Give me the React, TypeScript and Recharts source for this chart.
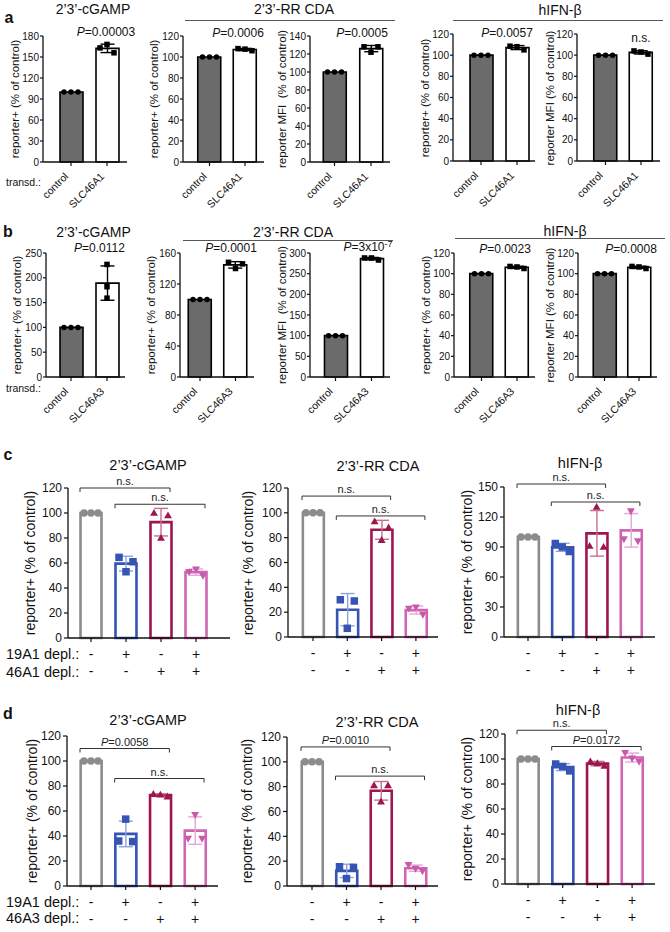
import React from 'react';
import { ComposedChart, Bar, Line, XAxis, YAxis, ErrorBar, ReferenceLine } from 'recharts';

const FONT = '"Liberation Sans", Arial, Helvetica, sans-serif';

// ---------- a / b : transduction (replicates per group, % of control) ----------
const transdA = ['control', 'SLC46A1'];
const transdB = ['control', 'SLC46A3'];

const aCgamp = [[100, 100, 100], [163, 168, 156]];
const aRrPos = [[100, 100, 100], [108, 107.5, 106]];
const aRrMfi = [[100, 100, 100], [128, 122, 128]];
const aIfnPos = [[100, 100, 100], [108.5, 108, 105]];
const aIfnMfi = [[100, 100, 100], [104, 103, 101]];

const bCgamp = [[100, 100, 100], [227, 182, 159]];
const bRrPos = [[100, 100, 100], [148, 140, 146]];
const bRrMfi = [[100, 100, 100], [288, 288, 283]];
const bIfnPos = [[100, 100, 100], [107, 106.5, 105]];
const bIfnMfi = [[100, 100, 100], [107, 106.5, 105]];

// ---------- c / d : depletion ----------
const deplGroups = ['ctrl', '19A1', '46A', 'both'];
const depl19A1 = ['-', '+', '-', '+'];
const depl46A = ['-', '-', '+', '+'];

const cCgamp = [[100, 100, 100], [64.5, 53, 61], [100, 80, 98], [53, 55, 50]];
const cRr = [[100, 100, 100], [30, 7, 29], [93, 78, 88], [23, 24, 18]];
const cIfn = [[100, 100, 100], [93.5, 90, 85.5], [91, 130, 90], [98, 126, 96]];
const dCgamp = [[100, 100, 100], [36, 53.5, 35.5], [73.5, 73, 71.5], [38, 57, 38]];
const dRr = [[100, 100, 100], [15.5, 6, 15], [81, 68, 81], [17, 14, 12]];
const dIfn = [[100, 100, 100], [96, 94, 90.5], [98, 96.5, 94.5], [105, 100.5, 98]];

// significance brackets: group index from/to, height in % of control
const cCgampBr = [{ from: 0, to: 2, y: 120, text: 'n.s.' }, { from: 1, to: 3, y: 107, text: 'n.s.' }];
const cRrBr = [{ from: 0, to: 2, y: 113.5, text: 'n.s.' }, { from: 1, to: 3, y: 97.5, text: 'n.s.' }];
const cIfnBr = [{ from: 0, to: 2, y: 153, text: 'n.s.' }, { from: 1, to: 3, y: 135, text: 'n.s.' }];
const dCgampBr = [{ from: 0, to: 2, y: 110, text: 'P=0.0058' }, { from: 1, to: 3, y: 86, text: 'n.s.' }];
const dRrBr = [{ from: 0, to: 2, y: 112, text: 'P=0.0010' }, { from: 1, to: 3, y: 88.5, text: 'n.s.' }];
const dIfnBr = [{ from: 0, to: 2, y: 123, text: 'n.s.' }, { from: 1, to: 3, y: 110, text: 'P=0.0172' }];

const t120 = [0, 20, 40, 60, 80, 100, 120];
const t140 = [0, 20, 40, 60, 80, 100, 120, 140];
const t150 = [0, 30, 60, 90, 120, 150];
const t160 = [0, 40, 80, 120, 160];
const t180 = [0, 30, 60, 90, 120, 150, 180];
const t250 = [0, 50, 100, 150, 200, 250];
const t300 = [0, 50, 100, 150, 200, 250, 300];

// ---------- looks ----------
const lookT = {
  fills: ['#6b6b6b', '#ffffff'],
  strokes: ['#000', '#000'],
  errColors: ['#000', '#000'],
  markers: ['circle', 'square'],
  dotColors: ['#000', '#000'],
  dotSize: 5.5,
  barSize: 23,
  barStroke: 1.6,
  tickFont: 10,
  tickSize: 3,
  tickMargin: 1,
  halfBar: 11,
};
const lookD = {
  fills: ['#fff', '#fff', '#fff', '#fff'],
  strokes: ['#8c8c8c', '#3554b3', '#9e1650', '#d066b3'],
  errColors: ['#8c8c8c', '#8ea2dc', '#c4708f', '#e6a6d6'],
  markers: ['circle', 'square', 'up', 'down'],
  dotColors: ['#8c8c8c', '#3554b3', '#9e1650', '#c95aab'],
  dotSize: 7.5,
  barSize: 21,
  barStroke: 2.6,
  tickFont: 12,
  tickSize: 4,
  tickMargin: 2,
  halfBar: 11,
};

const spread = [-7, 0, 7];
const stacked = [0, 0, 0];

const mean = (a: number[]) => a.reduce((s, v) => s + v, 0) / a.length;
const sd = (a: number[]) => {
  const m = mean(a);
  return Math.sqrt(a.reduce((s, v) => s + (v - m) ** 2, 0) / (a.length - 1));
};

const pText = (text: string) => {
  if (!text.startsWith('P=')) return text;
  const [base, sup] = text.slice(1).split('^');
  return (
    <>
      <i>P</i>
      {base}
      {sup ? <sup style={{ fontSize: '0.75em', verticalAlign: '0.45em', lineHeight: 0 }}>{sup}</sup> : null}
    </>
  );
};

const svgPText = (text: string) => {
  if (!text.startsWith('P=')) return text;
  return [<tspan key="p" fontStyle="italic">P</tspan>, <tspan key="r">{text.slice(1)}</tspan>];
};

function Marker({ x, y, kind, color, size }: any) {
  const h = size / 2;
  if (kind === 'circle') return <circle cx={x} cy={y} r={h} fill={color} />;
  if (kind === 'square') return <rect x={x - h} y={y - h} width={size} height={size} fill={color} />;
  if (kind === 'up')
    return <path d={`M${x},${y - h * 1.1}L${x + h * 1.05},${y + h * 0.75}L${x - h * 1.05},${y + h * 0.75}Z`} fill={color} />;
  return <path d={`M${x},${y + h * 1.1}L${x + h * 1.05},${y - h * 0.75}L${x - h * 1.05},${y - h * 0.75}Z`} fill={color} />;
}

const transdTick = (p: any) => {
  const { x, y, payload } = p;
  const ax = x - 2;
  const ay = y + 9;
  return (
    <text x={ax} y={ay} transform={`rotate(-45 ${ax} ${ay})`} textAnchor="end" fontSize={10.5} fontFamily={FONT} fill="#111">
      {payload.value}
    </text>
  );
};

const deplTick = (p: any) => {
  const { x, y, payload } = p;
  const i = deplGroups.indexOf(payload.value);
  return (
    <g fontFamily={FONT} fontSize={14} fill="#111" textAnchor="middle">
      <text x={x} y={y + 15}>{depl19A1[i]}</text>
      <text x={x} y={y + 32}>{depl46A[i]}</text>
    </g>
  );
};

const YW = 34;
const MT = 44;
const MR = 8;
const MB = 62;

function Panel({ spec }: any) {
  const { reps, cats, ticks, x0, c1, step, x1, yTop, yBot, look, brackets = [] } = spec;
  const jitter = spec.jitter || cats.map(() => spread);
  const n = cats.length;
  const padL = c1 - step / 2 - x0;
  const padR = x1 - (c1 + (n - 0.5) * step);
  const data = cats.map((c: string, i: number) => {
    const row: any = { cat: c, idx: i };
    row['v' + i] = mean(reps[i]);
    const e = sd(reps[i]);
    row['e' + i] = e > 0.01 ? e : null;
    reps[i].forEach((v: number, k: number) => (row['r' + k] = v));
    return row;
  });
  const w = x1 - x0 + YW + MR;
  const h = yBot - yTop + MT + MB;

  const dotFor = (k: number) => (p: any) => {
    const { cx, cy, payload, key } = p;
    if (cx == null || cy == null || !payload) return <g key={key} />;
    const i = payload.idx;
    return (
      <g key={key}>
        <Marker x={cx + jitter[i][k]} y={cy} kind={look.markers[i]} color={look.dotColors[i]} size={look.dotSize} />
      </g>
    );
  };

  const bracketShape = (text: string) => (p: any) => {
    const { x1: a, x2: b, y1: y } = p;
    const l = Math.min(a, b) - look.halfBar;
    const r = Math.max(a, b) + look.halfBar - 2;
    return (
      <g>
        <path d={`M${l},${y + 4}V${y}H${r}V${y + 4}`} stroke="#333" strokeWidth={1} fill="none" />
        <text x={(l + r) / 2} y={y - 3} textAnchor="middle" fontSize={11} fontFamily={FONT} fill="#222">
          {svgPText(text)}
        </text>
      </g>
    );
  };

  return (
    <div style={{ position: 'absolute', left: x0 - YW, top: yTop - MT, width: w, height: h }}>
      <ComposedChart width={w} height={h} data={data} margin={{ top: MT, right: MR, bottom: 0, left: 0 }}>
        <XAxis
          dataKey="cat"
          type="category"
          height={MB}
          padding={{ left: padL, right: padR }}
          interval={0}
          tickSize={4}
          tickMargin={2}
          axisLine={{ stroke: '#111', strokeWidth: 1.3 }}
          tickLine={{ stroke: '#111', strokeWidth: 1.2 }}
          tick={spec.kind === 'transd' ? transdTick : deplTick}
        />
        <YAxis
          type="number"
          width={YW}
          domain={[0, ticks[ticks.length - 1]]}
          ticks={ticks}
          interval={0}
          tickSize={look.tickSize}
          tickMargin={look.tickMargin}
          axisLine={{ stroke: '#111', strokeWidth: 1.3 }}
          tickLine={{ stroke: '#111', strokeWidth: 1.2 }}
          tick={{ fontSize: look.tickFont, fill: '#111', fontFamily: FONT }}
        />
        {cats.map((_: string, i: number) => (
          <Bar
            key={'bar' + i}
            dataKey={'v' + i}
            stackId="s"
            barSize={look.barSize}
            fill={look.fills[i]}
            stroke={look.strokes[i]}
            strokeWidth={look.barStroke}
            isAnimationActive={false}
          >
            <ErrorBar dataKey={'e' + i} width={7} stroke={look.errColors[i]} strokeWidth={1.4} direction="y" />
          </Bar>
        ))}
        {[0, 1, 2].map((k) => (
          <Line
            key={'rep' + k}
            dataKey={'r' + k}
            stroke="none"
            dot={dotFor(k)}
            activeDot={false}
            legendType="none"
            isAnimationActive={false}
          />
        ))}
        {brackets.map((b: any, j: number) => (
          <ReferenceLine
            key={'br' + j}
            segment={[{ x: cats[b.from], y: b.y }, { x: cats[b.to], y: b.y }]}
            ifOverflow="visible"
            shape={bracketShape(b.text)}
          />
        ))}
      </ComposedChart>
    </div>
  );
}

const specs = [
  { kind: 'transd', look: lookT, reps: aCgamp, cats: transdA, ticks: t180, x0: 43, c1: 71, step: 36, x1: 127, yTop: 36, yBot: 162 },
  { kind: 'transd', look: lookT, reps: aRrPos, cats: transdA, ticks: t120, x0: 183, c1: 209.5, step: 35.5, x1: 264, yTop: 36, yBot: 162 },
  { kind: 'transd', look: lookT, reps: aRrMfi, cats: transdA, ticks: t140, x0: 310, c1: 334.5, step: 36.5, x1: 390, yTop: 36, yBot: 162 },
  { kind: 'transd', look: lookT, reps: aIfnPos, cats: transdA, ticks: t120, x0: 453, c1: 481, step: 36, x1: 535, yTop: 34, yBot: 161 },
  { kind: 'transd', look: lookT, reps: aIfnMfi, cats: transdA, ticks: t120, x0: 577, c1: 605.5, step: 35.5, x1: 660, yTop: 34, yBot: 161 },
  { kind: 'transd', look: lookT, reps: bCgamp, cats: transdB, ticks: t250, x0: 46, c1: 71, step: 36, x1: 125, yTop: 253, yBot: 377, jitter: [spread, stacked] },
  { kind: 'transd', look: lookT, reps: bRrPos, cats: transdB, ticks: t160, x0: 180, c1: 200, step: 35.5, x1: 254, yTop: 253, yBot: 377 },
  { kind: 'transd', look: lookT, reps: bRrMfi, cats: transdB, ticks: t300, x0: 310, c1: 335.5, step: 36, x1: 390, yTop: 253, yBot: 377 },
  { kind: 'transd', look: lookT, reps: bIfnPos, cats: transdB, ticks: t120, x0: 454, c1: 481.5, step: 35.5, x1: 535, yTop: 253, yBot: 377 },
  { kind: 'transd', look: lookT, reps: bIfnMfi, cats: transdB, ticks: t120, x0: 578, c1: 604.5, step: 34.5, x1: 657, yTop: 253, yBot: 377 },
  { kind: 'depl', look: lookD, reps: cCgamp, cats: deplGroups, ticks: t120, brackets: cCgampBr, x0: 68, c1: 91, step: 35, x1: 230, yTop: 488, yBot: 638 },
  { kind: 'depl', look: lookD, reps: cRr, cats: deplGroups, ticks: t120, brackets: cRrBr, x0: 288, c1: 313, step: 34.3, x1: 438, yTop: 488, yBot: 637 },
  { kind: 'depl', look: lookD, reps: cIfn, cats: deplGroups, ticks: t150, brackets: cIfnBr, x0: 504, c1: 528, step: 34.3, x1: 655, yTop: 487, yBot: 637 },
  { kind: 'depl', look: lookD, reps: dCgamp, cats: deplGroups, ticks: t120, brackets: dCgampBr, x0: 67, c1: 91, step: 34.7, x1: 218, yTop: 736, yBot: 886 },
  { kind: 'depl', look: lookD, reps: dRr, cats: deplGroups, ticks: t120, brackets: dRrBr, x0: 287, c1: 312, step: 34.5, x1: 438, yTop: 737, yBot: 886 },
  { kind: 'depl', look: lookD, reps: dIfn, cats: deplGroups, ticks: t120, brackets: dIfnBr, x0: 505, c1: 528, step: 34.7, x1: 655, yTop: 734, yBot: 884 },
];

// ---------- page text ----------
const letters: [string, number, number][] = [['a', 9, 18], ['b', 8, 232], ['c', 8, 455], ['d', 8, 714]];
const titles: [string, number, number, number][] = [
  ['2’3’-cGAMP', 93, 9, 14], ['2’3’-RR CDA', 294, 9, 14], ['hIFN-β', 560, 10, 14],
  ['2’3’-cGAMP', 93.5, 232, 14], ['2’3’-RR CDA', 293, 232, 14], ['hIFN-β', 565, 231, 14],
  ['2’3’-cGAMP', 148, 465, 14.5], ['2’3’-RR CDA', 378, 466, 14.5], ['hIFN-β', 580, 463, 14.5],
  ['2’3’-cGAMP', 148, 720, 14.5], ['2’3’-RR CDA', 377, 722, 14.5], ['hIFN-β', 578, 710, 14.5],
];
const rules: [number, number, number][] = [[185, 395, 20], [453, 663, 20], [183, 393, 240], [455, 665, 238]];
const pLabels: [string, number, number][] = [
  ['P=0.00003', 106, 32], ['P=0.0006', 238, 33], ['P=0.0005', 362, 33], ['P=0.0057', 507, 33], ['n.s.', 641, 38],
  ['P=0.0112', 99.5, 248], ['P=0.0001', 231, 248], ['P=3x10^-7', 368, 247], ['P=0.0023', 505, 249], ['P=0.0008', 631, 249],
];
const posLab = 'reporter+ (% of control)';
const mfiLab = 'reporter MFI  (% of control)';
const yLabels: [string, number, number, number][] = [
  [posLab, 16, 99, 11.5], [posLab, 155, 99, 11.5], [mfiLab, 283, 99, 11.5], [posLab, 426, 98, 11.5], ['reporter MFI (% of control)', 551, 98, 11.5],
  [posLab, 18, 315, 11.5], [posLab, 152, 315, 11.5], [mfiLab, 283, 315, 11.5], [posLab, 427, 315, 11.5], ['reporter MFI (% of control)', 551, 315, 11.5],
  [posLab, 30, 563, 14], [posLab, 248, 563, 14], [posLab, 467, 562, 14],
  [posLab, 32, 811, 14], [posLab, 247, 811, 14], [posLab, 467, 809, 14],
];
const rowLabels: [string, number, number, number][] = [
  ['transd.:', 6, 182, 10.5], ['transd.:', 6, 388, 10.5],
  ['19A1 depl.:', 6, 654, 14.5], ['46A1 depl.:', 6, 672, 14.5],
  ['19A1 depl.:', 6, 902, 14.5], ['46A3 depl.:', 6, 918, 14.5],
];

const center: React.CSSProperties = { position: 'absolute', transform: 'translate(-50%, -50%)', whiteSpace: 'pre', lineHeight: 1 };

export default function App() {
  return (
    <div style={{ position: 'absolute', left: 0, top: 0, width: 670, height: 932, background: '#fff', fontFamily: FONT, color: '#111', overflow: 'hidden' }}>
      {letters.map(([t, x, y]) => (
        <div key={'l' + t} style={{ ...center, left: x, top: y, fontSize: 16, fontWeight: 700 }}>{t}</div>
      ))}
      {titles.map(([t, x, y, s], i) => (
        <div key={'t' + i} style={{ ...center, left: x, top: y, fontSize: s }}>{t}</div>
      ))}
      {rules.map(([a, b, y], i) => (
        <div key={'r' + i} style={{ position: 'absolute', left: a, top: y, width: b - a, height: 0, borderTop: '1.2px solid #555' }} />
      ))}
      {pLabels.map(([t, x, y], i) => (
        <div key={'p' + i} style={{ ...center, left: x, top: y, fontSize: 12 }}>{pText(t)}</div>
      ))}
      {yLabels.map(([t, x, y, s], i) => (
        <div key={'y' + i} style={{ ...center, left: x, top: y, fontSize: s, transform: 'translate(-50%, -50%) rotate(-90deg)' }}>{t}</div>
      ))}
      {rowLabels.map(([t, x, y, s], i) => (
        <div key={'w' + i} style={{ position: 'absolute', left: x, top: y, transform: 'translateY(-50%)', fontSize: s, lineHeight: 1, whiteSpace: 'pre' }}>{t}</div>
      ))}
      {specs.map((s, i) => (
        <Panel key={'panel' + i} spec={s} />
      ))}
    </div>
  );
}
